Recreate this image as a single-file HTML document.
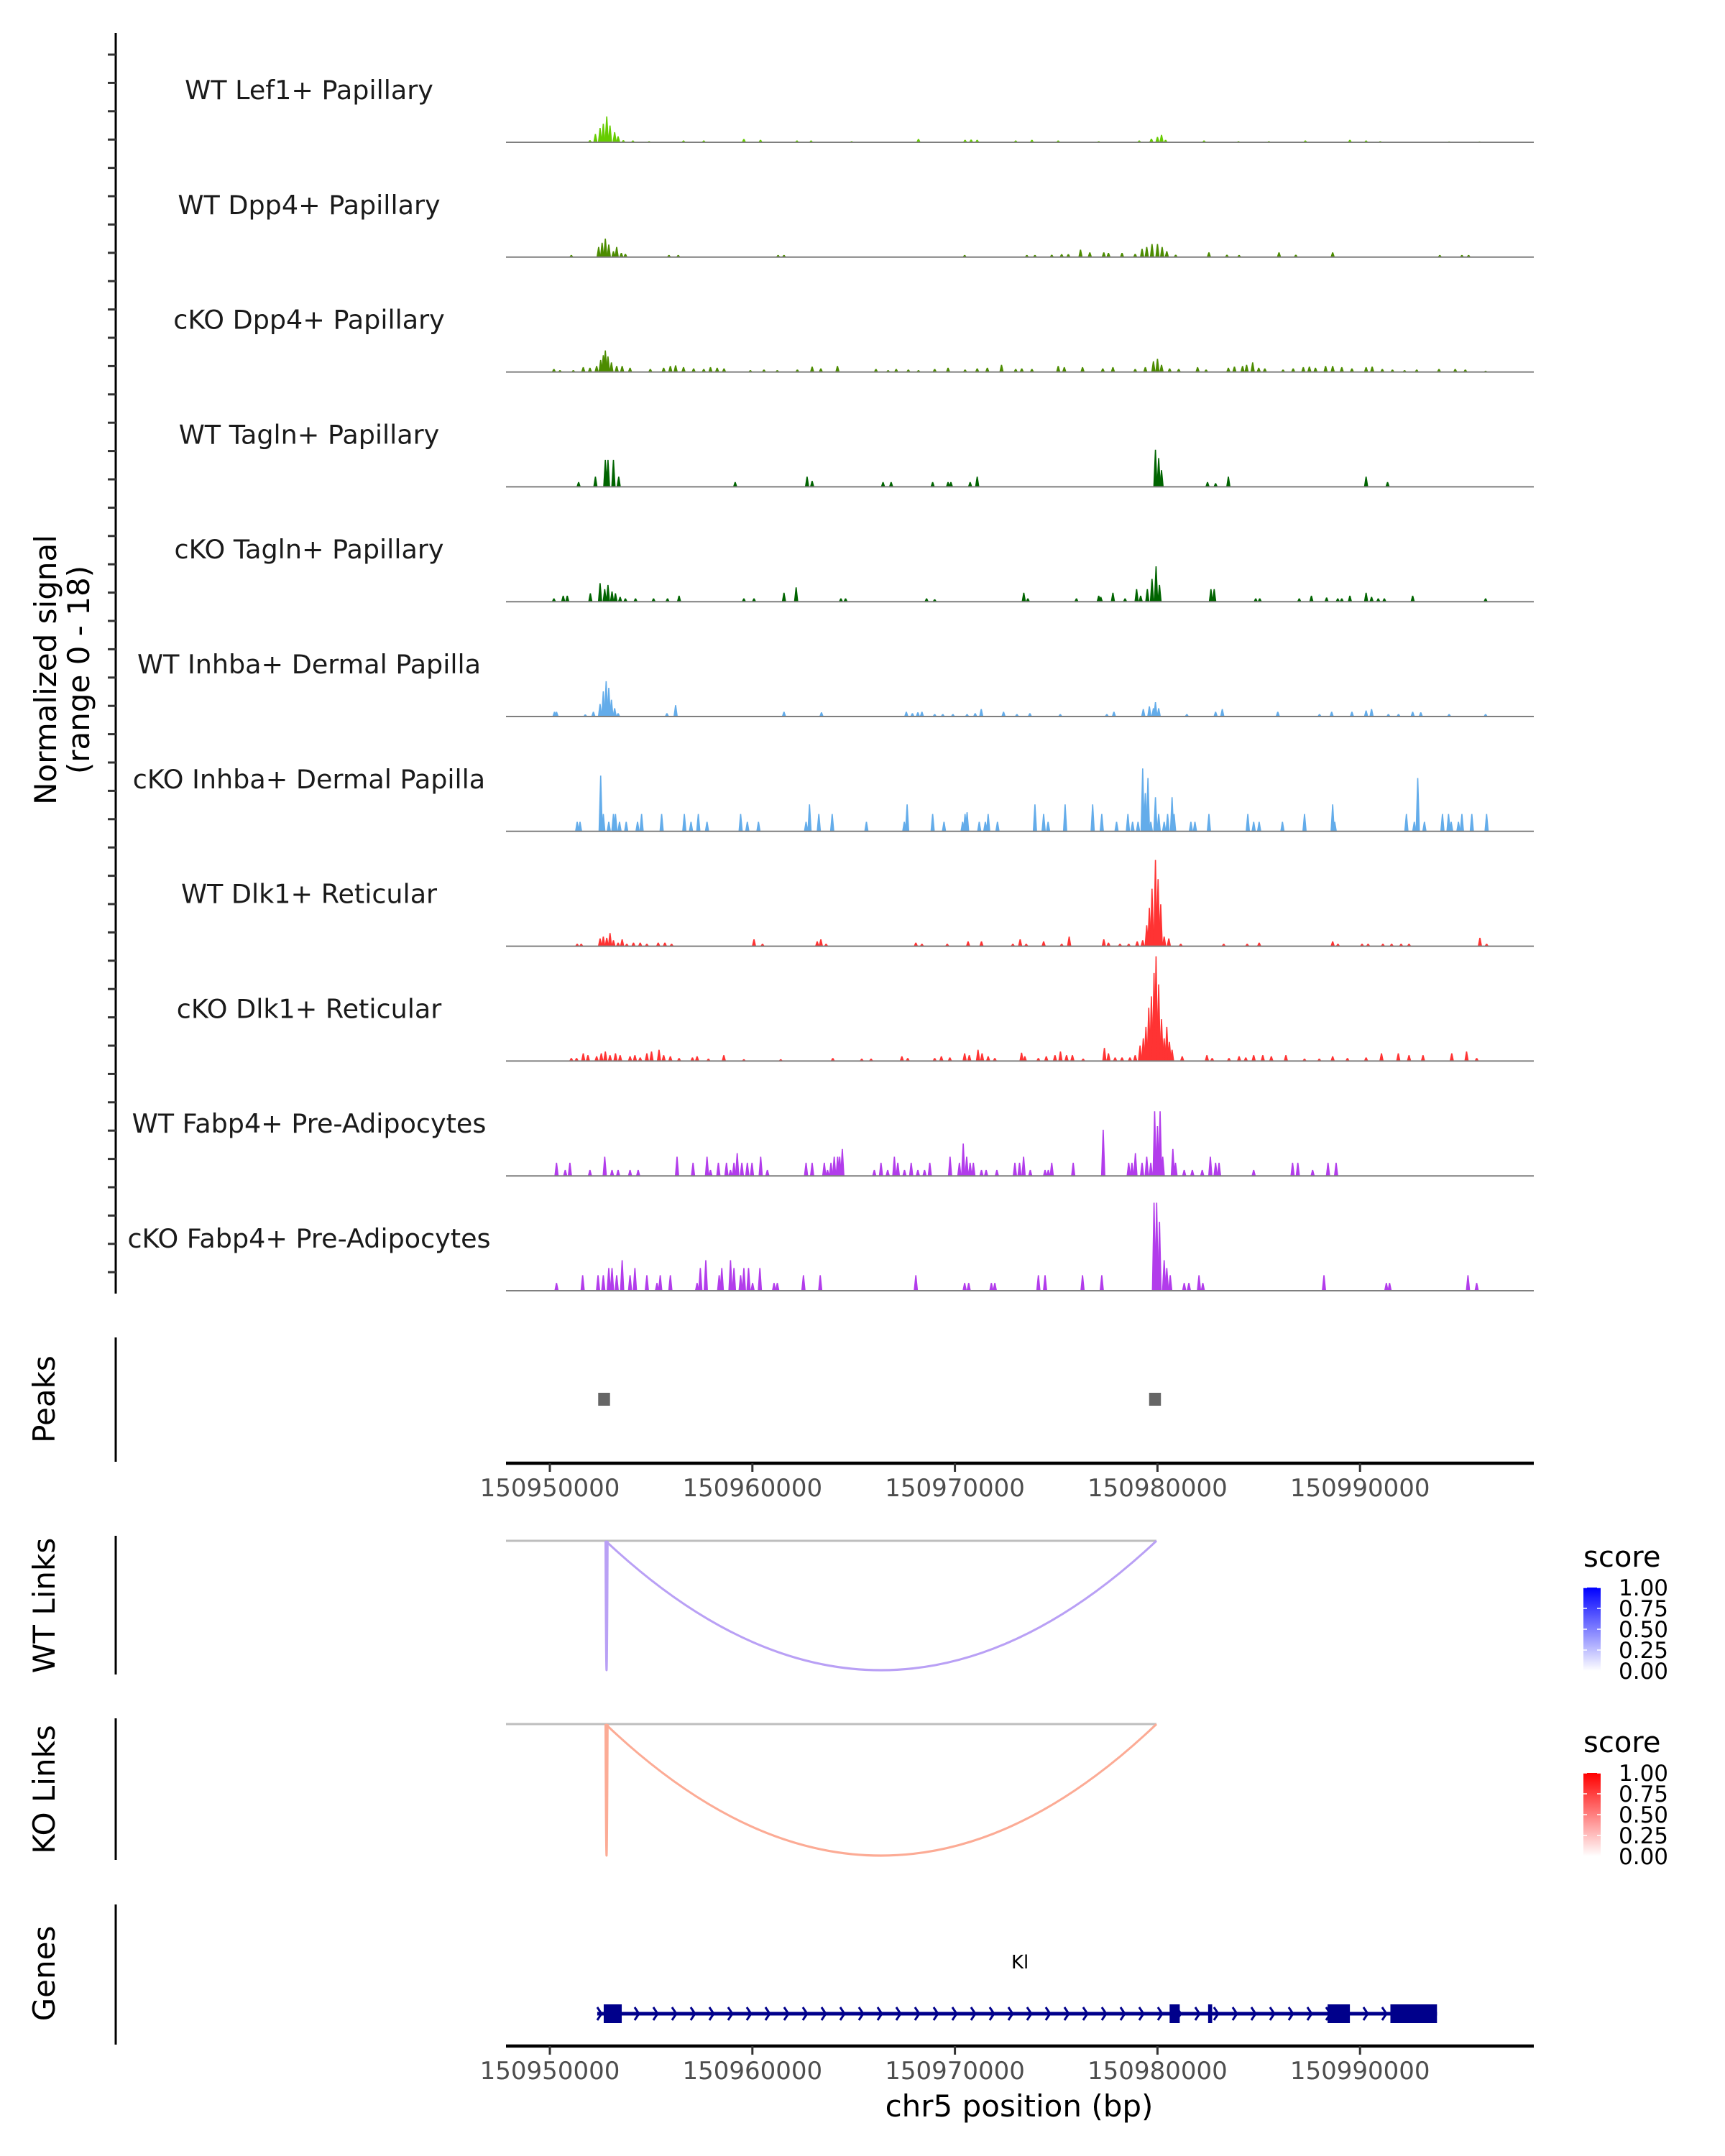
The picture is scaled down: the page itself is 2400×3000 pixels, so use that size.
<!DOCTYPE html>
<html><head><meta charset="utf-8"><style>
html,body{margin:0;padding:0;background:#fff}
svg{display:block}
text{font-family:"DejaVu Sans","Liberation Sans",sans-serif}
</style></head><body>
<svg id="fig" width="2400" height="3000" viewBox="0 0 2400 3000" xmlns="http://www.w3.org/2000/svg">
<defs>
<linearGradient id="gBlue" x1="0" y1="1" x2="0" y2="0"><stop offset="0" stop-color="#ffffff"/><stop offset="1" stop-color="#0000ff"/></linearGradient>
<linearGradient id="gRed" x1="0" y1="1" x2="0" y2="0"><stop offset="0" stop-color="#ffffff"/><stop offset="1" stop-color="#ff0000"/></linearGradient>
</defs>
<g id="tracks"></g>
<g id="axes"></g>
</svg>
<script>
// ---- data (positions in kb offset from 150950000; values = normalized signal 0-18) ----
const trackNames = ["WT Lef1+ Papillary","WT Dpp4+ Papillary","cKO Dpp4+ Papillary","WT Tagln+ Papillary","cKO Tagln+ Papillary","WT Inhba+ Dermal Papilla","cKO Inhba+ Dermal Papilla","WT Dlk1+ Reticular","cKO Dlk1+ Reticular","WT Fabp4+ Pre-Adipocytes","cKO Fabp4+ Pre-Adipocytes"];
const trackColors = ["#66cc00","#4c8c00","#4c8c00","#006400","#006400","#63acea","#63acea","#ff3333","#ff3333","#b23ceb","#b23ceb"];
const sigLef1WT = [[1.98,0.35],[2.25,1.4],[2.48,2.4],[2.64,3.1],[2.81,4.3],[2.97,2.8],[3.2,1.7],[3.37,1.0],[3.63,0.35],[4.1,0.3],[4.9,0.2],[6.6,0.3],[7.6,0.3],[9.58,0.55],[10.4,0.4],[12.2,0.3],[12.9,0.3],[14.9,0.2],[18.2,0.55],[20.5,0.4],[20.8,0.45],[21.1,0.4],[23,0.3],[23.8,0.4],[25.1,0.3],[27.1,0.2],[29.1,0.3],[29.7,0.6],[30,0.9],[30.2,1.25],[30.4,0.4],[32.3,0.3],[34,0.2],[35.5,0.2],[37.3,0.3],[39.5,0.4],[40.3,0.3],[41,0.2],[44.4,0.15],[45.9,0.15]];
const sigDpp4WT = [[1.06,0.35],[2.41,1.7],[2.58,2.4],[2.74,3.1],[2.91,2.1],[3.14,1.0],[3.3,1.7],[3.53,0.7],[3.73,0.55],[5.88,0.35],[6.34,0.35],[11.27,0.35],[11.56,0.35],[20.48,0.35],[23.55,0.35],[23.95,0.35],[24.78,0.4],[25.27,0.5],[25.6,0.5],[26.2,1.25],[26.66,0.8],[27.35,0.8],[27.58,0.7],[28.25,0.7],[28.9,0.55],[29.24,1.4],[29.47,1.7],[29.73,2.2],[30,2.2],[30.23,1.7],[30.46,1.0],[30.9,0.4],[32.54,0.8],[33.43,0.4],[34.03,0.35],[36.0,0.8],[36.83,0.4],[38.65,0.8],[43.94,0.35],[45.03,0.35],[45.36,0.35]];
const sigDpp4KO = [[0.2,0.5],[0.5,0.3],[1.16,0.3],[1.65,0.8],[1.98,0.7],[2.31,1.0],[2.51,2.0],[2.64,2.8],[2.74,3.6],[2.87,2.6],[3.04,1.6],[3.3,1.0],[3.57,1.0],[3.96,0.7],[4.96,0.5],[5.62,0.7],[5.95,1.0],[6.21,1.1],[6.6,0.8],[7.1,0.6],[7.6,0.5],[7.93,0.8],[8.26,0.7],[8.6,0.6],[9.9,0.3],[10.57,0.4],[11.23,0.3],[12.22,0.4],[12.95,0.9],[13.38,0.6],[14.2,1.0],[16.1,0.5],[16.7,0.3],[17.1,0.5],[17.7,0.4],[18.2,0.3],[19,0.5],[19.66,0.7],[20.5,0.4],[21.1,0.6],[21.6,0.7],[22.3,1.2],[23,0.5],[23.3,0.6],[23.8,0.5],[25.1,1.0],[25.4,0.8],[26.3,0.8],[27.3,0.6],[27.8,0.8],[28.9,0.5],[29.4,0.8],[29.8,1.8],[30,2.2],[30.2,1.2],[30.6,0.6],[31.05,0.5],[31.98,0.8],[32.4,0.4],[33.5,0.7],[33.8,0.9],[34.2,1.0],[34.4,1.2],[34.7,1.6],[35,0.7],[35.3,0.6],[36.2,0.4],[36.7,0.6],[37.2,0.8],[37.5,0.9],[37.8,0.7],[38.3,1.0],[38.65,1.0],[39.1,0.8],[39.6,0.6],[40.3,0.8],[40.6,0.9],[41.1,0.5],[41.6,0.4],[42.2,0.3],[42.8,0.4],[43.9,0.5],[44.7,0.5],[45.2,0.4],[46.2,0.2]];
const sigTaglnWT = [[1.42,0.8],[2.25,1.7],[2.74,4.5],[2.87,4.5],[3.14,4.5],[3.4,1.7],[9.15,0.8],[12.7,1.7],[12.95,1.0],[16.45,0.8],[16.85,0.8],[18.9,0.8],[19.66,0.8],[19.8,0.8],[20.75,0.8],[21.1,1.7],[29.9,6.2],[30.06,4.8],[30.2,2.8],[32.47,0.8],[32.87,0.6],[33.5,1.7],[40.3,1.7],[41.36,0.8]];
const sigTaglnKO = [[0.2,0.55],[0.66,1.0],[0.86,1.0],[2.0,1.4],[2.48,3.1],[2.71,2.1],[2.87,2.8],[3.07,1.7],[3.24,1.4],[3.47,0.8],[3.73,0.55],[4.23,0.55],[5.12,0.55],[5.81,0.55],[6.38,1.0],[9.58,0.55],[10.08,0.55],[11.56,1.5],[12.16,2.4],[14.37,0.55],[14.6,0.55],[18.6,0.55],[19,0.4],[23.4,1.5],[23.6,0.55],[26,0.55],[27.1,1.0],[27.2,0.8],[27.8,1.5],[28.4,0.55],[28.97,2.1],[29.17,1.0],[29.5,2.1],[29.73,3.8],[29.93,5.9],[30.1,2.8],[32.64,2.1],[32.8,2.1],[34.85,0.55],[35.05,0.55],[37,0.55],[37.6,1.0],[38.35,0.7],[38.9,0.55],[39.1,0.55],[39.5,1.0],[40.3,1.5],[40.57,0.8],[40.9,0.55],[41.2,0.55],[42.6,1.0],[46.2,0.55]];
const sigInhbaWT = [[0.23,0.8],[0.33,0.8],[1.75,0.35],[2.15,0.8],[2.48,2.1],[2.64,4.2],[2.78,5.9],[2.91,4.8],[3.04,2.8],[3.2,1.4],[3.37,0.55],[5.78,0.55],[6.21,1.9],[11.56,0.8],[13.41,0.7],[17.6,0.8],[17.9,0.55],[18.17,0.7],[18.37,0.8],[19,0.4],[19.4,0.4],[19.9,0.4],[20.6,0.4],[21,0.55],[21.3,1.25],[22.4,0.8],[23.06,0.4],[23.7,0.55],[25.2,0.4],[27.5,0.4],[27.85,0.8],[29.3,1.25],[29.6,1.7],[29.8,1.4],[29.9,2.4],[30.06,1.4],[31.45,0.4],[32.87,0.8],[33.2,1.25],[35.94,0.8],[38,0.4],[38.6,0.8],[39.6,0.8],[40.3,1.0],[40.57,1.25],[41.4,0.4],[41.9,0.4],[42.6,0.8],[43,0.7],[44.4,0.4],[46.2,0.4]];
const sigInhbaKO = [[1.35,1.6],[1.49,1.6],[2.51,9.3],[2.64,2.9],[2.91,1.6],[3.14,2.9],[3.24,2.9],[3.44,1.6],[3.77,1.6],[4.33,1.6],[4.53,2.9],[5.52,2.9],[6.64,2.9],[6.97,1.6],[7.33,2.9],[7.76,1.6],[9.42,2.9],[9.75,1.6],[10.3,1.6],[12.65,1.6],[12.82,4.5],[13.28,2.9],[13.94,2.9],[15.63,1.6],[17.5,1.6],[17.64,4.5],[18.9,2.9],[19.46,1.6],[20.38,1.6],[20.5,2.9],[20.6,3.2],[21.2,1.6],[21.5,1.6],[21.64,2.9],[22.1,1.6],[23.95,4.5],[24.38,2.9],[24.6,1.6],[25.44,4.5],[26.8,4.5],[27.25,2.9],[27.98,1.6],[28.54,2.9],[28.77,1.6],[29.04,1.6],[29.27,10.5],[29.4,6.4],[29.53,8.9],[29.67,1.6],[29.9,5.7],[30.06,2.9],[30.33,1.6],[30.5,2.9],[30.72,5.7],[30.82,2.9],[31.65,1.6],[31.85,1.6],[32.54,2.9],[34.46,2.9],[34.75,1.6],[35.02,1.6],[36.17,1.6],[37.26,2.9],[38.65,4.5],[38.75,1.6],[42.29,2.9],[42.68,1.6],[42.85,8.9],[43.18,1.6],[44.07,2.9],[44.37,2.9],[44.5,1.6],[44.86,1.6],[45.03,2.9],[45.52,2.9],[46.25,2.9]];
const sigDlk1WT = [[1.35,0.4],[1.55,0.4],[2.48,1.3],[2.64,1.6],[2.81,1.4],[2.97,2.2],[3.14,1.0],[3.37,0.6],[3.57,1.15],[3.8,0.4],[4.13,0.6],[4.46,0.6],[4.79,0.4],[5.35,0.6],[5.68,0.6],[6.01,0.4],[10.08,1.15],[10.5,0.4],[13.2,0.8],[13.38,1.15],[13.64,0.4],[18.07,0.6],[18.37,0.4],[19.62,0.4],[20.65,0.8],[21.31,0.8],[22.86,0.4],[23.22,1.15],[23.52,0.4],[24.38,0.8],[25.27,0.4],[25.64,1.6],[27.35,1.15],[27.58,0.6],[28.15,0.4],[28.58,0.4],[29.0,0.8],[29.27,1.0],[29.47,3.5],[29.6,6.4],[29.73,9.6],[29.9,14.4],[30.03,11.2],[30.16,7.0],[30.33,1.6],[30.56,1.3],[31.15,0.4],[33.27,0.4],[34.43,0.4],[35.02,0.6],[38.65,0.8],[38.91,0.4],[40.1,0.4],[40.4,0.4],[41.13,0.4],[41.56,0.4],[42.03,0.4],[42.42,0.4],[45.92,1.4],[46.25,0.4]];
const sigDlk1KO = [[1.06,0.5],[1.32,0.5],[1.65,1.3],[1.88,1.0],[2.31,0.8],[2.54,1.3],[2.74,1.6],[2.97,1.0],[3.24,1.3],[3.47,1.0],[3.96,0.8],[4.2,1.0],[4.46,0.6],[4.79,1.3],[5.02,1.6],[5.39,1.9],[5.62,1.0],[5.95,0.8],[6.38,0.5],[7.04,0.6],[7.27,0.8],[7.83,0.4],[8.59,1.0],[9.58,0.3],[11.4,0.3],[13.97,0.5],[15.4,0.4],[15.86,0.4],[17.38,0.8],[17.67,0.5],[19,0.5],[19.33,0.8],[19.75,0.6],[20.48,1.3],[20.71,1.0],[21.14,1.9],[21.34,1.3],[21.64,0.8],[21.97,0.5],[23.29,1.4],[23.45,0.8],[24.12,0.5],[24.51,0.8],[24.94,1.0],[25.21,1.6],[25.51,1.0],[25.8,1.0],[26.33,0.4],[27.38,2.2],[27.58,1.3],[27.91,0.6],[28.25,0.6],[28.64,0.6],[28.9,1.0],[29.14,2.6],[29.3,3.8],[29.43,5.7],[29.57,8.9],[29.7,10.8],[29.83,14.7],[29.93,17.5],[30.06,12.8],[30.2,7.0],[30.33,3.8],[30.46,5.7],[30.59,3.2],[30.72,1.9],[31.22,0.8],[32.44,1.0],[32.7,0.5],[33.53,0.5],[34.03,0.8],[34.36,0.6],[34.75,1.0],[35.2,1.0],[35.62,0.8],[36.34,1.0],[37.26,0.4],[37.99,0.4],[38.65,0.8],[39.38,0.5],[40.3,0.6],[41.06,1.3],[41.89,1.3],[42.42,1.0],[43.11,1.0],[44.53,1.3],[45.26,1.6],[45.76,0.5]];
const sigFabp4WT = [[0.33,2.2],[0.76,1.0],[0.99,2.2],[1.98,1.0],[2.71,3.2],[3.07,1.0],[3.37,1.0],[3.96,1.0],[4.36,1.0],[6.28,3.2],[7.07,2.2],[7.76,3.2],[7.93,1.0],[8.32,2.2],[8.72,2.2],[8.92,1.0],[9.09,2.2],[9.25,3.8],[9.48,2.2],[9.75,2.2],[9.98,2.2],[10.41,3.2],[10.74,1.0],[12.65,2.2],[12.95,2.2],[13.55,2.2],[13.71,1.0],[13.88,2.2],[14.04,3.2],[14.21,3.2],[14.31,3.2],[14.44,4.5],[16.02,1.0],[16.35,2.2],[16.68,1.0],[17.01,3.2],[17.18,2.2],[17.51,1.0],[17.84,2.2],[18.17,1.0],[18.5,1.0],[18.76,2.2],[19.76,3.2],[20.22,2.2],[20.41,5.4],[20.58,3.2],[20.75,2.2],[20.91,2.2],[21.31,1.0],[21.54,1.0],[22.07,1.0],[22.96,2.2],[23.19,2.2],[23.39,3.2],[23.72,1.0],[24.45,1.0],[24.61,1.0],[24.78,2.2],[25.84,2.2],[27.32,7.7],[28.58,2.2],[28.74,2.2],[28.91,3.8],[29.24,2.2],[29.47,3.2],[29.67,2.2],[29.86,10.8],[30.0,8.3],[30.13,10.8],[30.26,3.2],[30.76,4.5],[30.89,2.2],[31.32,1.0],[31.72,1.0],[32.21,1.0],[32.61,3.2],[32.87,2.2],[33.04,2.2],[34.75,1.0],[36.67,2.2],[36.93,2.2],[37.66,1.0],[38.42,2.2],[38.82,2.2]];
const sigFabp4KO = [[0.33,1.3],[1.62,2.6],[2.38,2.6],[2.64,2.6],[2.91,3.8],[3.07,3.8],[3.3,2.6],[3.57,5.1],[3.96,2.6],[4.2,3.8],[4.79,2.6],[5.29,1.3],[5.45,2.6],[5.95,2.6],[7.27,1.3],[7.43,3.8],[7.7,5.1],[8.36,2.6],[8.49,3.8],[8.92,5.1],[9.09,3.8],[9.42,2.6],[9.58,3.8],[9.81,3.8],[10.01,1.3],[10.37,3.8],[11.07,1.3],[11.23,1.3],[12.52,2.6],[13.35,2.6],[18.07,2.6],[20.48,1.3],[20.68,1.3],[21.8,1.3],[21.97,1.3],[24.12,2.6],[24.45,2.6],[26.3,2.6],[27.25,2.6],[29.83,14.7],[29.96,14.7],[30.1,11.5],[30.33,5.1],[30.46,3.8],[30.63,2.6],[31.32,1.3],[31.55,1.3],[32.05,2.6],[32.24,1.3],[38.22,2.6],[41.3,1.3],[41.46,1.3],[45.33,2.6],[45.76,1.3]];
const trackData = [sigLef1WT,sigDpp4WT,sigDpp4KO,sigTaglnWT,sigTaglnKO,sigInhbaWT,sigInhbaKO,sigDlk1WT,sigDlk1KO,sigFabp4WT,sigFabp4KO];
const peakStarts = [2.6, 29.8];
const peakEnds = [2.9, 30.1];
const wtLinkStarts = [2.75, 2.75];
const wtLinkEnds = [2.85, 29.95];
const wtLinkScores = [0.35, 0.35];
const koLinkStarts = [2.75, 2.75];
const koLinkEnds = [2.85, 29.95];
const koLinkScores = [0.35, 0.35];
const geneStart = 2.34, geneEnd = 43.8;
const exonStarts = [2.66, 30.6, 32.5, 38.4, 41.5];
const exonEnds = [3.55, 31.1, 32.7, 39.5, 43.8];
const xTicks = [0, 10, 20, 30, 40];
const xTickLabels = ["150950000","150960000","150970000","150980000","150990000"];
const legendTicks = [0, 0.25, 0.5, 0.75, 1];
const legendLabels = ["0.00","0.25","0.50","0.75","1.00"];

// ---- scales ----
const X0 = 765, KBPX = 28.18;
function xs(kb){ return X0 + kb*KBPX; }
const YMAX = 18, TRACK_H = 150, BASE0 = 198, STEP = 159.8;
function ys(i, v){ return BASE0 + i*STEP - v/YMAX*TRACK_H; }
const XL = 704, XR = 2134;
const NS = "http://www.w3.org/2000/svg";
const svg = document.getElementById('fig');
const gT = document.getElementById('tracks');
const gA = document.getElementById('axes');
function mk(tag, attrs, parent){ const e=document.createElementNS(NS,tag); for(const k in attrs) e.setAttribute(k,attrs[k]); (parent||svg).appendChild(e); return e; }

// ---- signal tracks ----
trackData.forEach((d, i) => {
  const g = mk('g', {}, gT);
  
  
  const base = ys(i, 0);
  const lbl = mk('text', {x:430, y:base-60, 'font-size':36.5, 'text-anchor':'middle', fill:'#1a1a1a'}, g);
  lbl.textContent = trackNames[i];
  
  
  d.forEach(p => {
    const x = xs(p[0]), y = ys(i, p[1]);
    const s = mk('polygon', {points:`${x-3},${base} ${x-0.8},${y} ${x+0.8},${y} ${x+3},${base}`, fill:trackColors[i]}, g);
    
    
  });
  const bl = mk('line', {x1:XL, x2:XR, y1:base, y2:base, stroke:'#7f7f7f', 'stroke-width':2}, g);
  
  
});

// ---- left axis for tracks ----
const ax = mk('line', {x1:161, x2:161, y1:46, y2:1800, stroke:'#000', 'stroke-width':3}, gA);


for (let y = 76; y <= 1798; y += 39.4) {
  const t = mk('line', {x1:150, x2:161, y1:y, y2:y, stroke:'#333', 'stroke-width':3}, gA);
  
  
}
function rotText(x, y, lines, name){
  const t = mk('text', {transform:`translate(${x},${y}) rotate(-90)`, 'font-size':42, 'text-anchor':'middle', fill:'#000'}, gA);
  
  
  lines.forEach((l, k) => { const s = mk('tspan', {x:0, dy: k===0 ? 0 : 46}, t); s.textContent = l; });
  return t;
}
rotText(78, 932, ["Normalized signal","(range 0 - 18)"], 'y-axis-title');

// ---- peaks panel ----
const pAx = mk('line', {x1:161, x2:161, y1:1861, y2:2034, stroke:'#000', 'stroke-width':3}, gA);


rotText(76, 1947, ["Peaks"], 'peaks-title');
peakStarts.forEach((s, k) => {
  const r = mk('rect', {x:xs(s)-6, y:1938, width:xs(peakEnds[k])-xs(s)+8, height:18, fill:'#666'}, gA);
  
  
});

// x axis helper
function xAxis(y, name){
  const l = mk('line', {x1:XL, x2:XR, y1:y, y2:y, stroke:'#000', 'stroke-width':4.5}, gA);
  
  
  xTicks.forEach((kb, k) => {
    const x = xs(kb);
    const t = mk('line', {x1:x, x2:x, y1:y, y2:y+12, stroke:'#333', 'stroke-width':3}, gA);
    
    
    const tx = mk('text', {x:x, y:y+46, 'font-size':34, 'text-anchor':'middle', fill:'#4d4d4d'}, gA);
    tx.textContent = xTickLabels[k];
    
    
  });
}
xAxis(2036, 'peaks-x-axis');

// ---- links ----
function links(top, bottom, starts, ends, scores, color, title, ty, axTop, axBot, name){
  const a = mk('line', {x1:161, x2:161, y1:axTop, y2:axBot, stroke:'#000', 'stroke-width':3}, gA);
  
  
  rotText(76, ty, [title], name + '-title');
  const maxEnd = Math.max(...ends);
  const bl = mk('line', {x1:XL, x2:xs(maxEnd), y1:top, y2:top, stroke:'#bebebe', 'stroke-width':3}, gA);
  
  
  starts.forEach((s, k) => {
    const x1 = xs(s), x2 = xs(ends[k]), cy = top + 2*(bottom-top);
    const p = mk('path', {d:`M${x1},${top} Q${(x1+x2)/2},${cy} ${x2},${top}`, fill:'none', stroke:color(scores[k]), 'stroke-width':3}, gA);
    
    
  });
}
links(2144, 2324, wtLinkStarts, wtLinkEnds, wtLinkScores, s=>'#b9a0f5', 'WT Links', 2234, 2137, 2330, 'wt-links');
links(2399, 2582, koLinkStarts, koLinkEnds, koLinkScores, s=>'#fcab95', 'KO Links', 2490, 2391, 2588, 'ko-links');

// ---- legends ----
function legend(y0, grad, name){
  const g = mk('g', {}, gA);
  
  
  const t = mk('text', {x:2203, y:y0, 'font-size':40, fill:'#000'}, g); t.textContent = 'score';
  const top = y0 + 29, h = 116;
  mk('rect', {x:2203, y:top, width:24, height:h, fill:`url(#${grad})`}, g);
  legendTicks.forEach((v, k) => {
    const y = top + h - v*h;
    mk('line', {x1:2203, x2:2208, y1:y, y2:y, stroke:'#fff', 'stroke-width':1.5}, g);
    mk('line', {x1:2222, x2:2227, y1:y, y2:y, stroke:'#fff', 'stroke-width':1.5}, g);
    const l = mk('text', {x:2252, y:y+11, 'font-size':31, fill:'#000'}, g); l.textContent = legendLabels[k];
  });
}
legend(2180, 'gBlue', 'wt-score-legend');
legend(2438, 'gRed', 'ko-score-legend');

// ---- genes ----
const gAx = mk('line', {x1:161, x2:161, y1:2650, y2:2845, stroke:'#000', 'stroke-width':3}, gA);


rotText(76, 2746, ["Genes"], 'genes-title');
const gy = 2802;
const gl = mk('line', {x1:xs(geneStart), x2:xs(geneEnd), y1:gy, y2:gy, stroke:'#00008b', 'stroke-width':5}, gA);


for (let x = xs(geneStart); x < xs(geneEnd) - 10; x += 26) {
  const c = mk('path', {d:`M${x},${gy-9} L${x+6},${gy} L${x},${gy+9}`, fill:'none', stroke:'#00008b', 'stroke-width':3}, gA);
  
  
}
exonStarts.forEach((s, k) => {
  const r = mk('rect', {x:xs(s), y:gy-13, width:xs(exonEnds[k])-xs(s), height:26, fill:'#00008b'}, gA);
  
  
});
const gn = mk('text', {x:xs((geneStart+geneEnd)/2)+4, y:2739, 'font-size':26, 'text-anchor':'middle', fill:'#000'}, gA);
gn.textContent = 'Kl';


xAxis(2847, 'genes-x-axis');
const xt = mk('text', {x:1418, y:2945, 'font-size':42, 'text-anchor':'middle', fill:'#000'}, gA);
xt.textContent = 'chr5 position (bp)';


</script>
</body></html>
